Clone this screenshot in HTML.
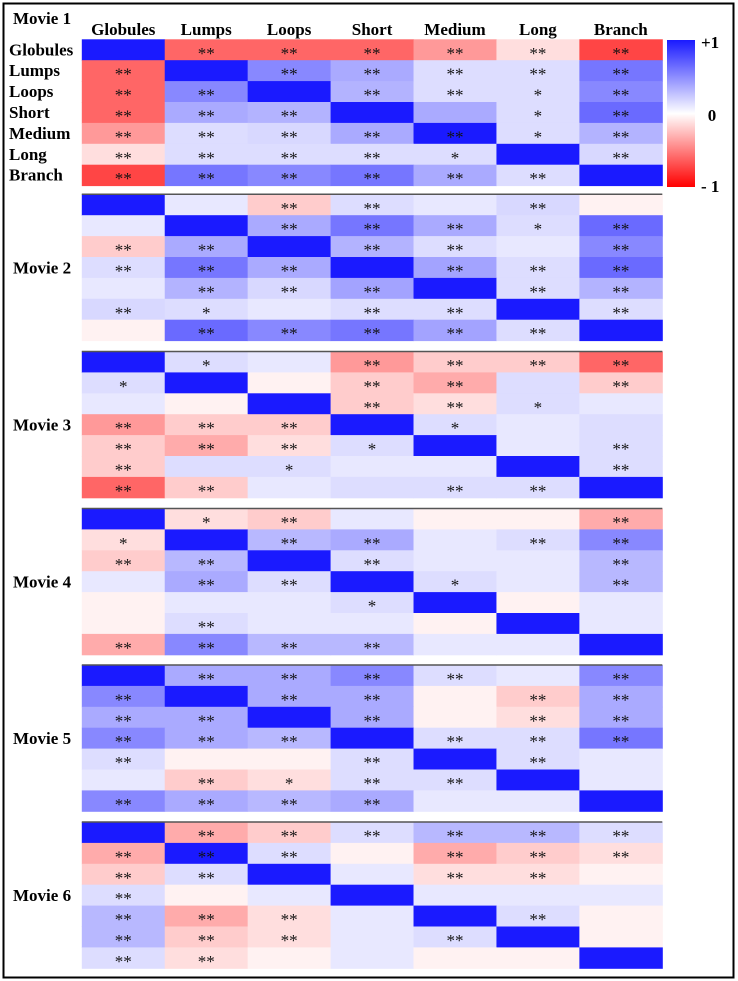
<!DOCTYPE html>
<html><head><meta charset="utf-8"><style>
body{margin:0;background:#fff;width:738px;height:981px;overflow:hidden}
svg{display:block;font-family:"Liberation Serif",serif}
</style></head><body>
<svg id="chart" width="738" height="981" viewBox="0 0 738 981">
<rect x="3.5" y="3.5" width="730" height="974" fill="#fff" stroke="#000" stroke-width="2"/>
</svg>
<script>
const categories = ["Globules","Lumps","Loops","Short","Medium","Long","Branch"];
const movies = ["Movie 1","Movie 2","Movie 3","Movie 4","Movie 5","Movie 6"];
const movie1Values = [
[1,-0.6,-0.6,-0.6,-0.4,-0.13,-0.73],
[-0.6,1,0.52,0.37,0.15,0.15,0.6],
[-0.6,0.52,1,0.33,0.15,0.15,0.52],
[-0.6,0.37,0.33,1,0.37,0.15,0.65],
[-0.4,0.15,0.17,0.37,1,0.15,0.33],
[-0.13,0.15,0.15,0.15,0.15,1,0.17],
[-0.73,0.6,0.52,0.6,0.37,0.15,1]];
const movie1Stars = [
["","**","**","**","**","**","**"],
["**","","**","**","**","**","**"],
["**","**","","**","**","*","**"],
["**","**","**","","","*","**"],
["**","**","**","**","**","*","**"],
["**","**","**","**","*","","**"],
["**","**","**","**","**","**",""]];
const movie2Values = [
[1,0.1,-0.2,0.15,0.1,0.17,-0.05],
[0.1,1,0.37,0.6,0.37,0.15,0.65],
[-0.2,0.37,1,0.33,0.15,0.1,0.52],
[0.15,0.6,0.37,1,0.4,0.15,0.65],
[0.1,0.33,0.17,0.4,1,0.15,0.33],
[0.17,0.15,0.1,0.15,0.15,1,0.15],
[-0.05,0.65,0.52,0.6,0.4,0.15,1]];
const movie2Stars = [
["","","**","**","","**",""],
["","","**","**","**","*","**"],
["**","**","","**","**","","**"],
["**","**","**","","**","**","**"],
["","**","**","**","","**","**"],
["**","*","","**","**","","**"],
["","**","**","**","**","**",""]];
const movie3Values = [
[1,0.15,0.1,-0.4,-0.2,-0.2,-0.6],
[0.15,1,-0.05,-0.2,-0.33,0.15,-0.2],
[0.1,-0.05,1,-0.2,-0.13,0.15,0.1],
[-0.4,-0.2,-0.2,1,0.15,0.1,0.15],
[-0.2,-0.33,-0.13,0.15,1,0.1,0.15],
[-0.2,0.15,0.15,0.1,0.1,1,0.15],
[-0.6,-0.2,0.1,0.15,0.15,0.15,1]];
const movie3Stars = [
["","*","","**","**","**","**"],
["*","","","**","**","","**"],
["","","","**","**","*",""],
["**","**","**","","*","",""],
["**","**","**","*","","","**"],
["**","","*","","","","**"],
["**","**","","","**","**",""]];
const movie4Values = [
[1,-0.13,-0.2,0.1,-0.05,-0.05,-0.33],
[-0.13,1,0.31,0.37,0.1,0.15,0.52],
[-0.2,0.31,1,0.15,0.1,0.1,0.31],
[0.1,0.37,0.15,1,0.15,0.1,0.31],
[-0.05,0.1,0.1,0.15,1,-0.05,0.1],
[-0.05,0.15,0.1,0.1,-0.05,1,0.1],
[-0.33,0.52,0.31,0.31,0.1,0.1,1]];
const movie4Stars = [
["","*","**","","","","**"],
["*","","**","**","","**","**"],
["**","**","","**","","","**"],
["","**","**","","*","","**"],
["","","","*","","",""],
["","**","","","","",""],
["**","**","**","**","","",""]];
const movie5Values = [
[1,0.37,0.37,0.52,0.15,0.1,0.52],
[0.52,1,0.37,0.37,-0.05,-0.2,0.37],
[0.37,0.37,1,0.37,-0.05,-0.13,0.37],
[0.52,0.37,0.31,1,0.15,0.15,0.6],
[0.15,-0.05,-0.05,0.15,1,0.15,0.1],
[0.1,-0.2,-0.13,0.15,0.15,1,0.1],
[0.52,0.37,0.31,0.37,0.1,0.1,1]];
const movie5Stars = [
["","**","**","**","**","","**"],
["**","","**","**","","**","**"],
["**","**","","**","","**","**"],
["**","**","**","","**","**","**"],
["**","","","**","","**",""],
["","**","*","**","**","",""],
["**","**","**","**","","",""]];
const movie6Values = [
[1,-0.33,-0.2,0.15,0.31,0.31,0.15],
[-0.33,1,0.15,-0.05,-0.33,-0.2,-0.13],
[-0.2,0.15,1,0.1,-0.13,-0.13,-0.05],
[0.15,-0.05,0.1,1,0.1,0.1,0.1],
[0.31,-0.33,-0.13,0.1,1,0.15,-0.05],
[0.31,-0.2,-0.13,0.1,0.15,1,-0.05],
[0.15,-0.13,-0.05,0.1,-0.05,-0.05,1]];
const movie6Stars = [
["","**","**","**","**","**","**"],
["**","**","**","","**","**","**"],
["**","**","","","**","**",""],
["**","","","","","",""],
["**","**","**","","","**",""],
["**","**","**","","**","",""],
["**","**","","","","",""]];
const allValues=[movie1Values,movie2Values,movie3Values,movie4Values,movie5Values,movie6Values];
const allStars=[movie1Stars,movie2Stars,movie3Stars,movie4Stars,movie5Stars,movie6Stars];

const NS="http://www.w3.org/2000/svg";
const svg=document.getElementById('chart');
const X0=81.8, CW=82.93, RH=20.9;
const blockTops=[39.3,194.3,351.5,508.5,665,822];
const xScale=c=>X0+c*CW;
const yScale=(b,r)=>blockTops[b]+r*RH;
function color(v){
  if(v>=0){const r=Math.round(255-229*v);return `rgb(${r},${r},255)`;}
  const g=Math.round(255+255*v);return `rgb(255,${g},${g})`;
}
function mk(tag,attrs){const e=document.createElementNS(NS,tag);for(const k in attrs)e.setAttribute(k,attrs[k]);svg.appendChild(e);return e;}
function txt(x,y,s,size,anchor){const t=mk('text',{x:x,y:y,'font-size':size,'font-weight':'bold','text-anchor':anchor||'start',fill:'#000'});t.textContent=s;return t;}

allValues.forEach((m,b)=>{
  m.forEach((row,r)=>row.forEach((v,c)=>{
    const rc=mk('rect',{x:xScale(c),y:yScale(b,r),width:CW+0.5,height:RH+0.5,fill:color(v)});
    
    
    const s=allStars[b][r][c];
    if(s){const t=txt(xScale(c)+CW/2,yScale(b,r)+RH/2+9,s,17,'middle');t.setAttribute('font-weight','normal');t.setAttribute('fill','#111');
      
      }
  }));
  if(b>0){const l=mk('line',{x1:X0,x2:X0+7*CW,y1:blockTops[b],y2:blockTops[b],stroke:'#555','stroke-width':1.5});
    
    }
  const lbl=b===0?txt(13,24,movies[b],17):txt(13,blockTops[b]+73+6,movies[b],17);
  
  
});
categories.forEach((c,i)=>{
  const h=txt(xScale(i)+CW/2,35,c,17,'middle');
  
  
  const r=txt(9,yScale(0,i)+16,c,17);
  
  
});
const defs=mk('defs',{});
const g=document.createElementNS(NS,'linearGradient');g.setAttribute('id','cb');g.setAttribute('x1','0');g.setAttribute('y1','0');g.setAttribute('x2','0');g.setAttribute('y2','1');
[['0%','rgb(26,26,255)'],['50%','#fff'],['100%','rgb(255,0,0)']].forEach(([o,c])=>{const s=document.createElementNS(NS,'stop');s.setAttribute('offset',o);s.setAttribute('stop-color',c);g.appendChild(s);});
defs.appendChild(g);
const cb=mk('rect',{x:667,y:40,width:28,height:147,fill:'url(#cb)'});


const cbTicks=["+1","0","- 1"];
cbTicks.forEach((t,i)=>{const e=txt(i===1?712:701,[48,121,192][i],t,17,i===1?'middle':'start');
  
  });
</script>
</body></html>
